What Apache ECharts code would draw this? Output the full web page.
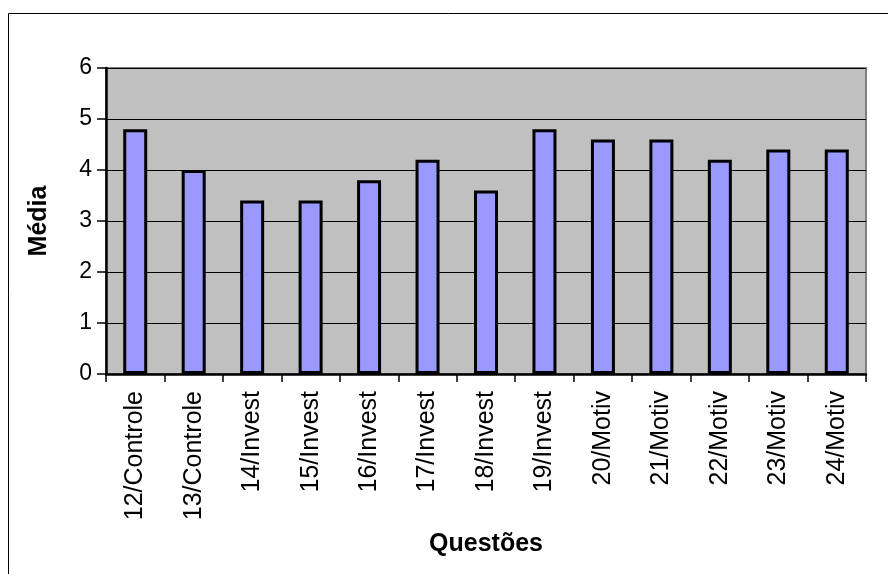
<!DOCTYPE html>
<html>
<head>
<meta charset="utf-8">
<script src="https://cdn.jsdelivr.net/npm/echarts@6/dist/echarts.min.js"></script>
<style>
  html, body { margin: 0; padding: 0; background: #ffffff; }
  #chart { width: 888px; height: 574px; }
</style>
</head>
<body>
<div id="chart"></div>
<script>
// Average score per question
const categories = [
  '12/Controle', '13/Controle', '14/Invest', '15/Invest', '16/Invest',
  '17/Invest', '18/Invest', '19/Invest', '20/Motiv', '21/Motiv',
  '22/Motiv', '23/Motiv', '24/Motiv'
];
const medias = [4.8, 4.0, 3.4, 3.4, 3.8, 4.2, 3.6, 4.8, 4.6, 4.6, 4.2, 4.4, 4.4];
const yTicks = [0, 1, 2, 3, 4, 5, 6];

const chart = echarts.init(document.getElementById('chart'));
const font = '"Liberation Sans", Arial, sans-serif';

chart.setOption({
  animation: false,
  backgroundColor: '#ffffff',
  graphic: [{
    type: 'rect',
    shape: { x: 8.5, y: 13.5, width: 1000, height: 1000 },
    style: { fill: 'none', stroke: '#000000', lineWidth: 1 },
    silent: true
  }],
  grid: {
    left: 106, top: 68, right: 22, bottom: 200,
    show: true,
    backgroundColor: '#c0c0c0',
    borderColor: '#808080',
    borderWidth: 2
  },
  xAxis: {
    type: 'category',
    data: categories,
    name: 'Questões',
    nameLocation: 'middle',
    nameGap: 158,
    nameTextStyle: { fontFamily: font, fontSize: 25, fontWeight: 'bold', color: '#000' },
    axisLine: { lineStyle: { color: '#000', width: 2.5 } },
    axisTick: { show: true, length: 8, lineStyle: { color: '#000', width: 1.5 } },
    axisLabel: {
      rotate: 90, margin: 17, color: '#000',
      fontFamily: font, fontSize: 25
    }
  },
  yAxis: {
    type: 'value',
    min: yTicks[0],
    max: yTicks[yTicks.length - 1],
    interval: 1,
    name: 'Média',
    nameLocation: 'middle',
    nameGap: 54,
    nameRotate: 90,
    nameTextStyle: { fontFamily: font, fontSize: 25, fontWeight: 'bold', color: '#000' },
    axisLine: { show: true, lineStyle: { color: '#000', width: 2.5 } },
    axisTick: { show: true, length: 9, lineStyle: { color: '#000', width: 1.5 } },
    axisLabel: { margin: 14, color: '#000', fontFamily: font, fontSize: 23 },
    splitLine: { show: true, lineStyle: { color: '#000', width: 1 } }
  },
  series: [{
    type: 'bar',
    data: medias,
    barWidth: 24,
    itemStyle: { color: '#9999ff', borderColor: '#000', borderWidth: 3 }
  }]
});
</script>
</body>
</html>
